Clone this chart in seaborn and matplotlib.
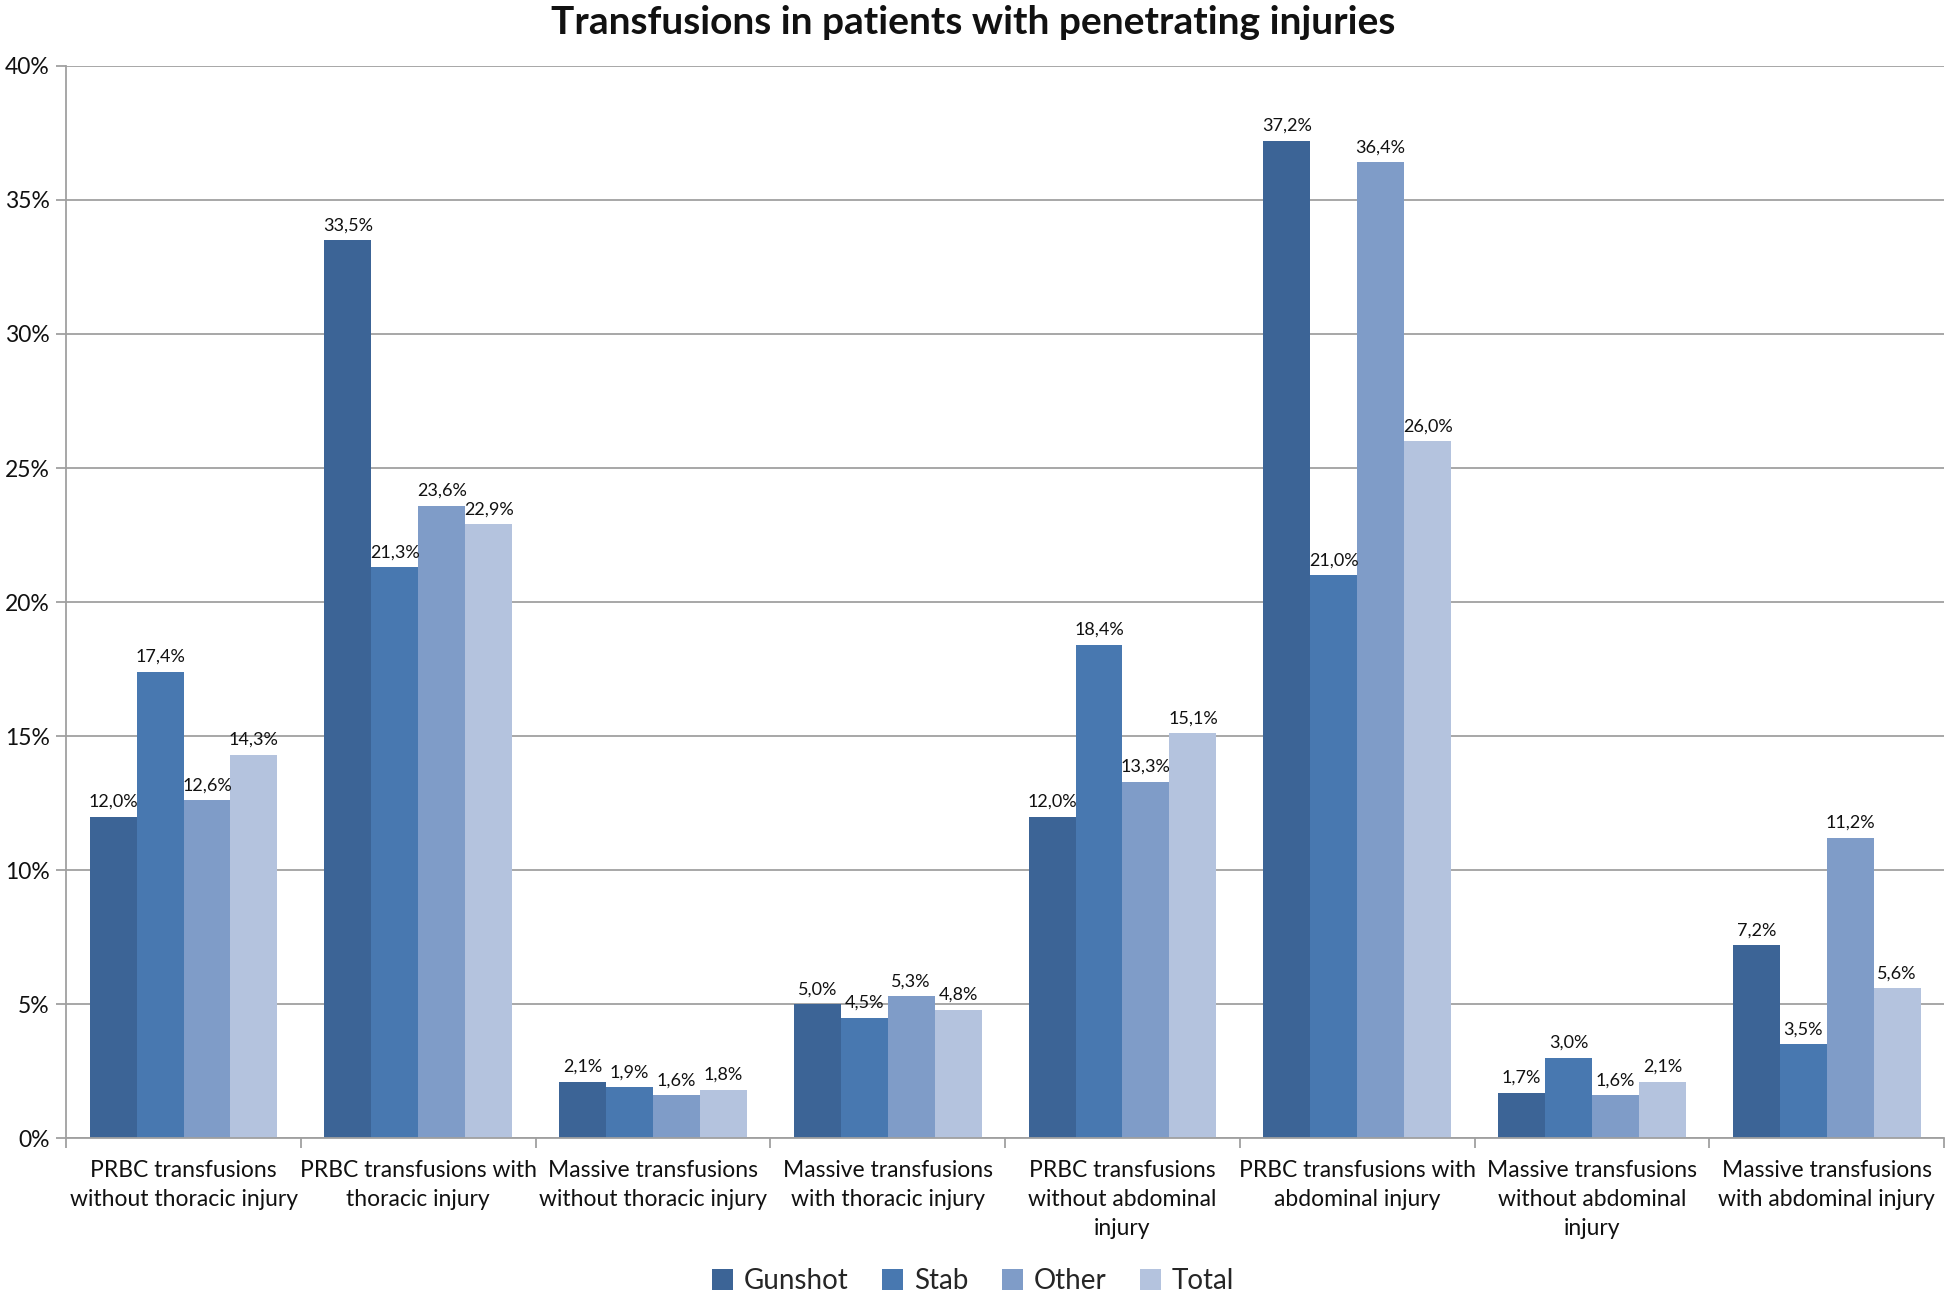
import matplotlib
matplotlib.use("Agg")
import matplotlib.pyplot as plt
import seaborn as sns
import pandas as pd
from matplotlib.ticker import MultipleLocator, FixedLocator, FuncFormatter, NullFormatter
from matplotlib.patches import Patch

categories = [
    "PRBC transfusions\nwithout thoracic injury",
    "PRBC transfusions with\nthoracic injury",
    "Massive transfusions\nwithout thoracic injury",
    "Massive transfusions\nwith thoracic injury",
    "PRBC transfusions\nwithout abdominal\ninjury",
    "PRBC transfusions with\nabdominal injury",
    "Massive transfusions\nwithout abdominal\ninjury",
    "Massive transfusions\nwith abdominal injury",
]
series = ["Gunshot", "Stab", "Other", "Total"]
gunshot = [12.0, 33.5, 2.1, 5.0, 12.0, 37.2, 1.7, 7.2]
stab = [17.4, 21.3, 1.9, 4.5, 18.4, 21.0, 3.0, 3.5]
other = [12.6, 23.6, 1.6, 5.3, 13.3, 36.4, 1.6, 11.2]
total = [14.3, 22.9, 1.8, 4.8, 15.1, 26.0, 2.1, 5.6]
colors = ["#3C6496", "#4878B0", "#7F9CC8", "#B4C3DE"]
title = "Transfusions in patients with penetrating injuries"

rows = []
for s, vals in zip(series, [gunshot, stab, other, total]):
    for c, v in zip(categories, vals):
        rows.append({"category": c, "series": s, "value": v})
df = pd.DataFrame(rows)

sns.set_theme(style="white")
plt.rcParams["font.family"] = ["Lato", "DejaVu Sans"]

fig = plt.figure(figsize=(19.46, 12.92), dpi=100)
ax = fig.add_axes([0.034, 0.119, 0.965, 0.830])

sns.barplot(data=df, x="category", y="value", hue="series", order=categories,
            hue_order=series, palette=colors, width=0.8, gap=0, saturation=1,
            ax=ax, legend=False, linewidth=0)

for cont in ax.containers:
    ax.bar_label(cont, labels=[f"{v:.1f}%".replace(".", ",") for v in cont.datavalues],
                 padding=5, fontsize=13, color="#111111")

ax.set_ylim(0, 40)
ax.set_xlim(-0.5, len(categories) - 0.5)
ax.yaxis.set_major_locator(MultipleLocator(5))
ax.yaxis.set_major_formatter(FuncFormatter(lambda v, p: f"{v:.0f}%"))
ax.grid(axis="y", color="#A0A0A0", linewidth=1.3)
ax.set_axisbelow(True)
ax.set_xlabel("")
ax.set_ylabel("")

for side in ["top", "right"]:
    ax.spines[side].set_visible(False)
for side in ["left", "bottom"]:
    ax.spines[side].set_color("#A0A0A0")
    ax.spines[side].set_linewidth(1.3)

ax.tick_params(axis="y", which="major", left=True, length=7, width=1.3, color="#A0A0A0",
               labelsize=16.5, pad=5, labelcolor="#111111")
ax.tick_params(axis="x", which="major", bottom=False, labelsize=16.5, pad=10, labelcolor="#111111")
ax.xaxis.set_minor_locator(FixedLocator([i - 0.5 for i in range(len(categories) + 1)]))
ax.xaxis.set_minor_formatter(NullFormatter())
ax.tick_params(axis="x", which="minor", bottom=True, length=7, width=1.3, color="#A0A0A0")
for lbl in ax.get_xticklabels():
    lbl.set_verticalalignment("top")
    lbl.set_linespacing(1.45)

fig.suptitle(title, fontsize=28, fontweight="bold", y=0.996, color="#111111")

handles = [Patch(facecolor=c, edgecolor="none") for c in colors]
fig.legend(handles, series, loc="lower center", ncol=4, frameon=False, fontsize=20,
           bbox_to_anchor=(0.5, -0.021), handlelength=0.75, handleheight=0.75,
           handletextpad=0.4, columnspacing=1.2)

fig.savefig("out.png", dpi=100)
